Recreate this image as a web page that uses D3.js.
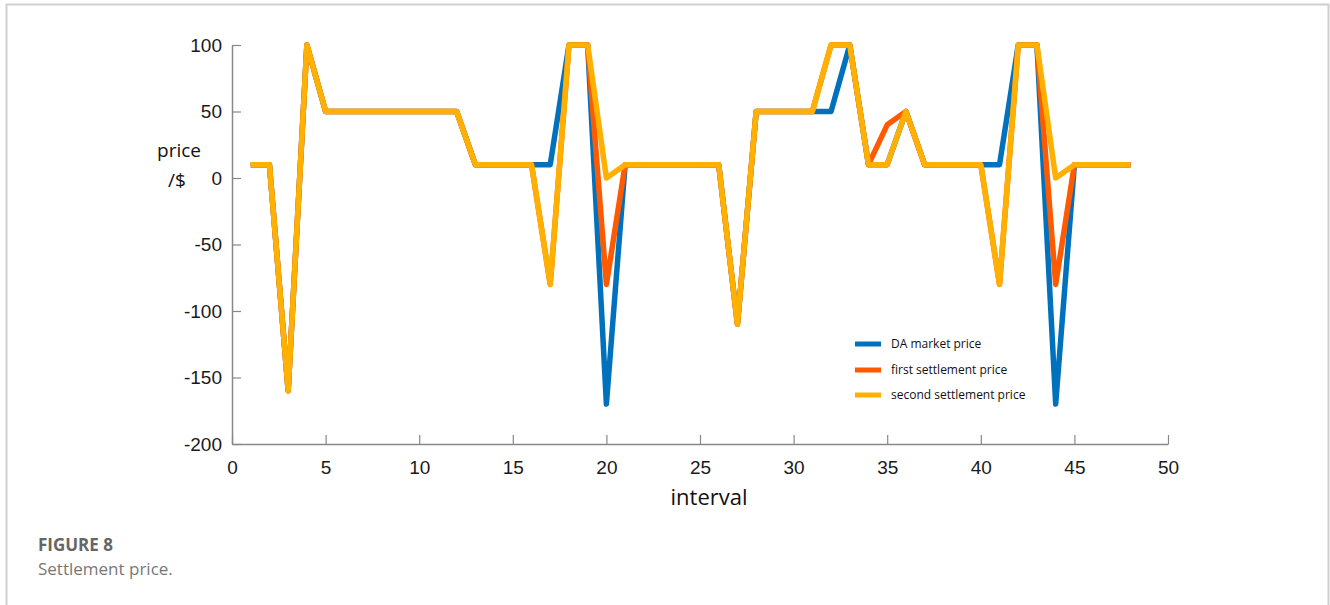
<!DOCTYPE html>
<html>
<head>
<meta charset="utf-8">
<script src="https://cdn.jsdelivr.net/npm/d3@7"></script>
<style>
  html, body { margin: 0; padding: 0; background: #fff; }
  svg { display: block; }
</style>
</head>
<body>
<svg id="chart" width="1330" height="605"></svg>
<script>
const intervals = d3.range(1, 49);
const daPrice = [10,10,-160,100,50,50,50,50,50,50,50,50,10,10,10,10,10,100,100,-170,10,10,10,10,10,10,-110,50,50,50,50,50,100,10,10,50,10,10,10,10,10,100,100,-170,10,10,10,10];
const firstPrice = [10,10,-160,100,50,50,50,50,50,50,50,50,10,10,10,10,-80,100,100,-80,10,10,10,10,10,10,-110,50,50,50,50,100,100,10,40,50,10,10,10,10,-80,100,100,-80,10,10,10,10];
const secondPrice = [10,10,-160,100,50,50,50,50,50,50,50,50,10,10,10,10,-80,100,100,0,10,10,10,10,10,10,-110,50,50,50,50,100,100,10,10,50,10,10,10,10,-80,100,100,0,10,10,10,10];
const seriesNames = ["DA market price", "first settlement price", "second settlement price"];
const seriesColors = ["#0072BD", "#FF5A00", "#FFB000"];
const xTicks = [0,5,10,15,20,25,30,35,40,45,50];
const yTicks = [100,50,0,-50,-100,-150,-200];

const svg = d3.select("#chart");

// frame
svg.append("path").attr("d", "M6.5,605 V4.5 H1328.5 V605")
  .attr("fill", "none").attr("stroke", "#cfcfcf").attr("stroke-width", 2);

const x = d3.scaleLinear().domain([0, 50]).range([232, 1168]);
const y = d3.scaleLinear().domain([-200, 100]).range([444, 45]);

const tickFont = "Liberation Sans, Arial, sans-serif";

// axes
const xAxis = d3.axisBottom(x).tickValues(xTicks).tickSize(-9).tickPadding(17).tickSizeOuter(0);
const gx = svg.append("g").attr("transform", "translate(0,444)").call(xAxis);
gx.select(".domain").attr("stroke", "#888").attr("stroke-width", 1.5);
gx.selectAll(".tick line").attr("stroke", "#888").attr("stroke-width", 1.2);
gx.selectAll("text").attr("font-family", tickFont).attr("font-size", 19).attr("fill", "#1a1a1a");

const yAxis = d3.axisLeft(y).tickValues(yTicks).tickFormat(d => String(d)).tickSize(-9).tickPadding(10).tickSizeOuter(0);
const gy = svg.append("g").attr("transform", "translate(232,0)").call(yAxis);
gy.select(".domain").attr("stroke", "#888").attr("stroke-width", 1.5);
gy.selectAll(".tick line").attr("stroke", "#888").attr("stroke-width", 1.2);
gy.selectAll("text").attr("font-family", tickFont).attr("font-size", 19).attr("fill", "#1a1a1a");

// lines
const allSeries = [daPrice, firstPrice, secondPrice];
const line = d3.line().x((d, i) => x(intervals[i])).y(d => y(d));
allSeries.forEach((s, k) => {
  svg.append("path").datum(s).attr("d", line)
    .attr("fill", "none").attr("stroke", seriesColors[k])
    .attr("stroke-width", 5.5).attr("stroke-linejoin", "round");
});

// legend
const legY = [344, 370, 395];
seriesNames.forEach((n, k) => {
  svg.append("line").attr("x1", 855).attr("x2", 881).attr("y1", legY[k]).attr("y2", legY[k])
    .attr("stroke", seriesColors[k]).attr("stroke-width", 5);
  svg.append("text").attr("x", 891).attr("y", legY[k] + 4)
    .attr("font-family", "Open Sans, sans-serif").attr("font-size", 12).attr("fill", "#111").text(n);
});

// axis titles
svg.append("text").attr("x", 179).attr("y", 157).attr("text-anchor", "middle")
  .attr("font-family", "Open Sans, sans-serif").attr("font-size", 19).attr("fill", "#111").text("price");
svg.append("text").attr("x", 177).attr("y", 187).attr("text-anchor", "middle")
  .attr("font-family", "Open Sans, sans-serif").attr("font-size", 19).attr("fill", "#111").text("/$");
svg.append("text").attr("x", 709).attr("y", 505).attr("text-anchor", "middle")
  .attr("font-family", "Open Sans, sans-serif").attr("font-size", 22).attr("fill", "#111").text("interval");

// caption
svg.append("text").attr("x", 38).attr("y", 551)
  .attr("font-family", "Open Sans, sans-serif").attr("font-size", 17).attr("font-weight", "bold").attr("fill", "#666").text("FIGURE 8");
svg.append("text").attr("x", 38).attr("y", 575)
  .attr("font-family", "Open Sans, sans-serif").attr("font-size", 17).attr("fill", "#777").text("Settlement price.");
</script>
</body>
</html>
